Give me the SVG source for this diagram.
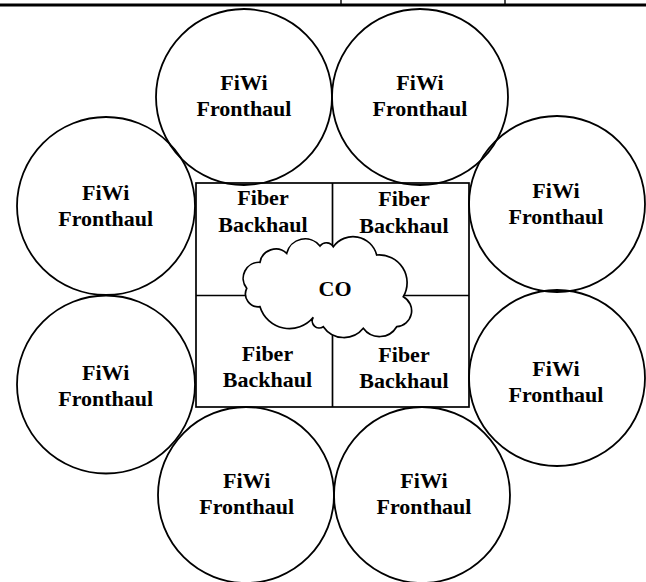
<svg xmlns="http://www.w3.org/2000/svg" width="646" height="582" viewBox="0 0 646 582">
<style>
.c{fill:none;stroke:#000;stroke-width:1.8}
.t{font-family:"Liberation Serif","Times New Roman",serif;font-weight:bold;font-size:22px;text-anchor:middle;fill:#000}
.ln{stroke:#000;stroke-width:1.7;fill:none}
</style>
<rect width="646" height="582" fill="#fff"/>
<g id="frame">
<line x1="0" y1="5" x2="646" y2="5" stroke="#000" stroke-width="2.8"/>
<line x1="341" y1="0" x2="341" y2="5" stroke="#000" stroke-width="1.4"/>
<line x1="505" y1="0" x2="505" y2="5" stroke="#000" stroke-width="1.4"/>
</g>
<g id="connectors">
<rect class="ln" x="196" y="183" width="273" height="224"/>
<line class="ln" x1="332.5" y1="183" x2="332.5" y2="407"/>
<line class="ln" x1="196" y1="295.5" x2="469" y2="295.5"/>
</g>
<g id="bh1"><text class="t" x="263" y="205">Fiber</text><text class="t" x="263" y="232">Backhaul</text></g>
<g id="bh2"><text class="t" x="404" y="206">Fiber</text><text class="t" x="404" y="233">Backhaul</text></g>
<g id="bh3"><text class="t" x="267.5" y="361">Fiber</text><text class="t" x="267.5" y="387">Backhaul</text></g>
<g id="bh4"><text class="t" x="404" y="362">Fiber</text><text class="t" x="404" y="388">Backhaul</text></g>
<g id="co">
<path d="M246.7,288.3 A16,16 0 0 1 260,262.3 A16,16 0 0 1 286.7,253.3 A19,19 0 0 1 320,246 A8,8 0 0 1 333.3,246.7 A24.4,24.4 0 0 1 376.7,255 A27.8,27.8 0 0 1 403.3,296.7 A16,16 0 0 1 396.7,326.7 A20,20 0 0 1 363.3,328.3 A25,25 0 0 1 323.3,326.7 A7,7 0 0 1 313.3,317.3 A30.8,30.8 0 0 1 260,306.7 A13,13 0 0 1 246.7,288.3 Z" fill="#fff" stroke="#000" stroke-width="1.7"/>
<text class="t" x="335" y="296">CO</text>
</g>
<g id="f1"><circle class="c" cx="244" cy="97" r="88"/><text class="t" x="244" y="89.5">FiWi</text><text class="t" x="244" y="116">Fronthaul</text></g>
<g id="f2"><circle class="c" cx="420" cy="97" r="88"/><text class="t" x="420" y="89.5">FiWi</text><text class="t" x="420" y="116">Fronthaul</text></g>
<g id="f3"><circle class="c" cx="106" cy="206" r="89"/><text class="t" x="105.7" y="200">FiWi</text><text class="t" x="105.7" y="226">Fronthaul</text></g>
<g id="f4"><circle class="c" cx="557" cy="204" r="88"/><text class="t" x="556" y="198">FiWi</text><text class="t" x="556" y="224">Fronthaul</text></g>
<g id="f5"><circle class="c" cx="106" cy="384.5" r="89"/><text class="t" x="105.7" y="379.5">FiWi</text><text class="t" x="105.7" y="405.5">Fronthaul</text></g>
<g id="f6"><circle class="c" cx="557" cy="378" r="88"/><text class="t" x="556" y="376">FiWi</text><text class="t" x="556" y="402">Fronthaul</text></g>
<g id="f7"><circle class="c" cx="246" cy="495" r="88"/><text class="t" x="246.7" y="487.5">FiWi</text><text class="t" x="246.7" y="514">Fronthaul</text></g>
<g id="f8"><circle class="c" cx="422" cy="495" r="88"/><text class="t" x="424" y="487.5">FiWi</text><text class="t" x="424" y="514">Fronthaul</text></g>
</svg>
